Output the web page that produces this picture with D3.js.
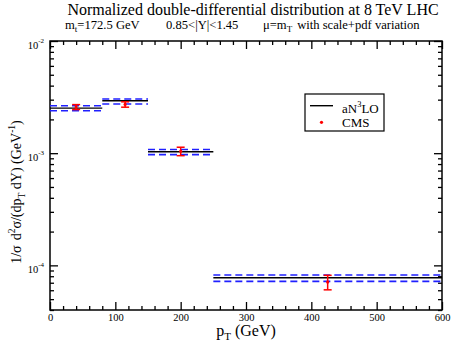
<!DOCTYPE html>
<html>
<head>
<meta charset="utf-8">
<script src="https://cdn.jsdelivr.net/npm/d3@7"></script>
<style>
  body { margin: 0; background: #fff; }
  svg text { font-family: "Liberation Serif", "Times New Roman", serif; }
</style>
</head>
<body>
<script>
const svgWidth = 452;
const svgHeight = 345;

const margin = { top: 41, right: 10, bottom: 35, left: 50 };
const serif = "Liberation Serif";

// Data
const binLo = [0, 80, 150, 250];
const binHi = [80, 150, 250, 600];
const theory = [2.52e-3, 2.93e-3, 1.03e-3, 7.75e-5];
const theoryUp = [2.65e-3, 3.04e-3, 1.08e-3, 8.2e-5];
const theoryDown = [2.39e-3, 2.74e-3, 0.97e-3, 7.2e-5];
const cmsPt = [40, 115, 200, 425];
const cmsVal = [2.58e-3, 2.72e-3, 1.04e-3, 7.1e-5];
const cmsErr = [0.13e-3, 0.15e-3, 0.09e-3, 1.05e-5];
const xTicks = [0, 100, 200, 300, 400, 500, 600];
const yTicks = [1e-4, 1e-3, 1e-2];

const svg = d3.select("body")
  .append("svg")
  .attr("width", svgWidth)
  .attr("height", svgHeight)
  .attr("font-family", serif);

const chartWidth = svgWidth - margin.left - margin.right;
const chartHeight = svgHeight - margin.top - margin.bottom;

const chartGroup = svg.append("g")
  .attr("transform", `translate(${margin.left}, ${margin.top})`);

const xScale = d3.scaleLinear().domain([0, 600]).range([0, chartWidth]);
const yScale = d3.scaleLog().domain([4e-5, 1e-2]).range([chartHeight, 0]);

// minor ticks
const xMinor = d3.range(0, 601, 20).filter(v => v % 100 !== 0);
const yMinor = [];
[-5, -4, -3].forEach(k => {
  for (let m = 2; m <= 9; m++) {
    const v = m * Math.pow(10, k);
    if (v >= 4e-5 && v <= 1e-2) yMinor.push(v);
  }
});

function styleAxis(g) {
  g.attr("font-family", serif);
  g.select(".domain").remove();
  g.selectAll("line").attr("stroke", "#000").attr("stroke-width", 1.3);
}

// bottom axis
chartGroup.append("g")
  .attr("transform", `translate(0, ${chartHeight})`)
  .call(d3.axisBottom(xScale).tickValues(xMinor).tickSize(-4).tickFormat(""))
  .call(styleAxis);
const xMajorAxis = chartGroup.append("g")
  .attr("transform", `translate(0, ${chartHeight})`)
  .call(d3.axisBottom(xScale).tickValues(xTicks).tickSize(-8).tickPadding(4).tickFormat(d3.format("d")))
  .call(styleAxis);
xMajorAxis.selectAll("text")
  .attr("font-family", serif)
  .attr("font-size", 10.5)
  .attr("fill", "#000");

// top axis
chartGroup.append("g")
  .call(d3.axisTop(xScale).tickValues(xMinor).tickSize(-4).tickFormat(""))
  .call(styleAxis);
chartGroup.append("g")
  .call(d3.axisTop(xScale).tickValues(xTicks).tickSize(-8).tickFormat(""))
  .call(styleAxis);

// left axis
chartGroup.append("g")
  .call(d3.axisLeft(yScale).tickValues(yMinor).tickSize(-4).tickFormat(""))
  .call(styleAxis);
chartGroup.append("g")
  .call(d3.axisLeft(yScale).tickValues(yTicks).tickSize(-8).tickFormat(""))
  .call(styleAxis);

// right axis
chartGroup.append("g")
  .attr("transform", `translate(${chartWidth}, 0)`)
  .call(d3.axisRight(yScale).tickValues(yMinor).tickSize(-4).tickFormat(""))
  .call(styleAxis);
chartGroup.append("g")
  .attr("transform", `translate(${chartWidth}, 0)`)
  .call(d3.axisRight(yScale).tickValues(yTicks).tickSize(-8).tickFormat(""))
  .call(styleAxis);

// y tick labels with superscripts
yTicks.forEach(v => {
  const t = chartGroup.append("text")
    .attr("x", -6)
    .attr("y", yScale(v) + 8)
    .attr("text-anchor", "end")
    .attr("font-family", serif)
    .attr("font-size", 10.5)
    .attr("fill", "#000");
  t.append("tspan").text("10");
  t.append("tspan").attr("dy", -6).attr("font-size", 7).text(Math.round(Math.log10(v)));
});

// frame
chartGroup.append("rect")
  .attr("x", 0).attr("y", 0)
  .attr("width", chartWidth).attr("height", chartHeight)
  .attr("fill", "none")
  .attr("stroke", "#000")
  .attr("stroke-width", 1.5);

// theory bands (dashed) and central values
const bins = d3.range(binLo.length);
[theoryUp, theoryDown].forEach(arr => {
  chartGroup.selectAll(null)
    .data(bins)
    .enter()
    .append("line")
    .attr("x1", i => xScale(binLo[i]))
    .attr("x2", i => xScale(binHi[i]))
    .attr("y1", i => yScale(arr[i]))
    .attr("y2", i => yScale(arr[i]))
    .attr("stroke", "#2020ff")
    .attr("stroke-width", 1.6)
    .attr("stroke-dasharray", "7,4");
});

chartGroup.selectAll(null)
  .data(bins)
  .enter()
  .append("line")
  .attr("x1", i => xScale(binLo[i]))
  .attr("x2", i => xScale(binHi[i]))
  .attr("y1", i => yScale(theory[i]))
  .attr("y2", i => yScale(theory[i]))
  .attr("stroke", "#000")
  .attr("stroke-width", 1.4);

// CMS points with error bars
const cms = chartGroup.selectAll(".cms")
  .data(bins)
  .enter()
  .append("g")
  .attr("class", "cms");

cms.append("line")
  .attr("x1", i => xScale(cmsPt[i]))
  .attr("x2", i => xScale(cmsPt[i]))
  .attr("y1", i => yScale(cmsVal[i] + cmsErr[i]))
  .attr("y2", i => yScale(cmsVal[i] - cmsErr[i]))
  .attr("stroke", "red")
  .attr("stroke-width", 1.5);

[1, -1].forEach(s => {
  cms.append("line")
    .attr("x1", i => xScale(cmsPt[i]) - 4)
    .attr("x2", i => xScale(cmsPt[i]) + 4)
    .attr("y1", i => yScale(cmsVal[i] + s * cmsErr[i]))
    .attr("y2", i => yScale(cmsVal[i] + s * cmsErr[i]))
    .attr("stroke", "red")
    .attr("stroke-width", 1.5);
});

cms.append("circle")
  .attr("cx", i => xScale(cmsPt[i]))
  .attr("cy", i => yScale(cmsVal[i]))
  .attr("r", 1.6)
  .attr("fill", "red");

// legend
const legend = svg.append("g").attr("transform", "translate(305, 94)");
legend.append("rect")
  .attr("width", 79).attr("height", 37)
  .attr("fill", "#fff")
  .attr("stroke", "#000")
  .attr("stroke-width", 1.2);
legend.append("line")
  .attr("x1", 5).attr("x2", 28)
  .attr("y1", 11.7).attr("y2", 11.7)
  .attr("stroke", "#000").attr("stroke-width", 1.4);
const legText = legend.append("text")
  .attr("x", 37).attr("y", 18.5)
  .attr("font-family", serif)
  .attr("font-size", 13);
legText.append("tspan").text("aN");
legText.append("tspan").attr("dy", -6).attr("font-size", 8.5).text("3");
legText.append("tspan").attr("dy", 6).text("LO");
legend.append("circle")
  .attr("cx", 16.5).attr("cy", 28.3)
  .attr("r", 1.6).attr("fill", "red");
legend.append("text")
  .attr("x", 37).attr("y", 32.5)
  .attr("font-family", serif)
  .attr("font-size", 13)
  .text("CMS");

// titles
svg.append("text")
  .attr("x", 253).attr("y", 14.5)
  .attr("text-anchor", "middle")
  .attr("font-family", serif)
  .attr("font-size", 16)
  .text("Normalized double-differential distribution at 8 TeV LHC");

const sub = svg.append("text")
  .attr("y", 29)
  .attr("font-family", serif)
  .attr("font-size", 12.6);
sub.append("tspan").attr("x", 65).text("m");
sub.append("tspan").attr("dy", 3).attr("font-size", 9).text("t");
sub.append("tspan").attr("dy", -3).text("=172.5 GeV");
sub.append("tspan").attr("x", 166).text("0.85<|Y|<1.45");
sub.append("tspan").attr("x", 263).text("\u03bc=m");
sub.append("tspan").attr("dy", 3).attr("font-size", 9).text("T");
sub.append("tspan").attr("dy", -3).attr("dx", 5).text("with scale+pdf variation");

// x axis label
const xLabel = svg.append("text")
  .attr("x", 246).attr("y", 336)
  .attr("text-anchor", "middle")
  .attr("font-family", serif)
  .attr("font-size", 16);
xLabel.append("tspan").text("p");
xLabel.append("tspan").attr("dy", 4).attr("font-size", 11).text("T");
xLabel.append("tspan").attr("dy", -4).text(" (GeV)");

// y axis label
const yLabel = svg.append("text")
  .attr("transform", "translate(21, 192) rotate(-90)")
  .attr("text-anchor", "middle")
  .attr("font-family", serif)
  .attr("font-size", 14);
yLabel.append("tspan").text("1/\u03c3");
yLabel.append("tspan").attr("dx", 5).text("d");
yLabel.append("tspan").attr("dy", -6).attr("font-size", 9.5).text("2");
yLabel.append("tspan").attr("dy", 6).text("\u03c3/(dp");
yLabel.append("tspan").attr("dy", 4).attr("font-size", 9.5).text("T");
yLabel.append("tspan").attr("dy", -4).text(" dY) (GeV");
yLabel.append("tspan").attr("dy", -6).attr("font-size", 9.5).text("-1");
yLabel.append("tspan").attr("dy", 6).text(")");
</script>
</body>
</html>
